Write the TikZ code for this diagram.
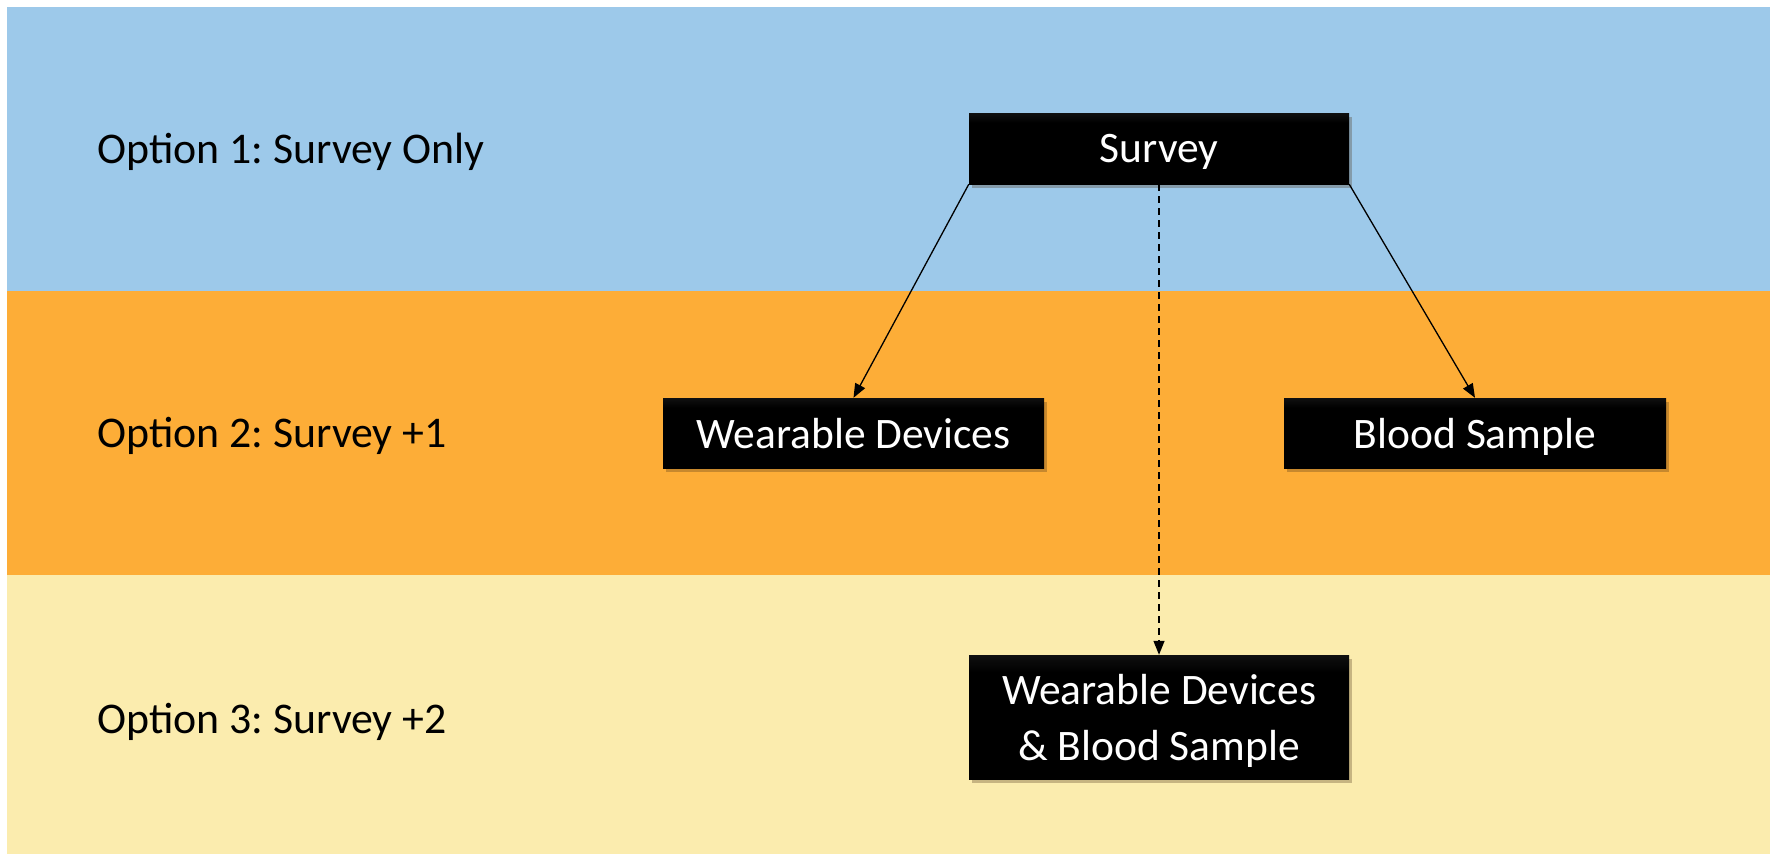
\documentclass[tikz,border=0pt]{standalone}
\usepackage{fontspec}
\setmainfont{Carlito}
\usetikzlibrary{arrows.meta,shadows}
\definecolor{bandblue}{RGB}{157,201,234}
\definecolor{bandorange}{RGB}{253,173,55}
\definecolor{bandyellow}{RGB}{251,236,174}
\definecolor{boxtop}{RGB}{72,72,72}
\pgfdeclareverticalshading{boxshade}{100bp}{color(0bp)=(black); color(68bp)=(black); color(100bp)=(boxtop)}
\frenchspacing
\tikzset{
  blackbox/.style={rectangle, shade, shading=boxshade, text=white, inner sep=0pt, align=center,
    font=\fontsize{43.5}{56}\selectfont, text depth=0pt,
    drop shadow={shadow xshift=3pt, shadow yshift=-4pt, opacity=0.3, fill=black!60!brown}},
  optlabel/.style={anchor=base west, inner sep=0pt, font=\fontsize{43.8}{51}\selectfont, text=black},
  conn/.style={line width=1.3pt, -{Triangle[length=14pt,width=11pt]}},
  dconn/.style={conn, dash pattern=on 7pt off 5pt}
}
\begin{document}
\begin{tikzpicture}[x=1pt,y=-1pt]
\useasboundingbox (0,0) rectangle (1773,854);
\fill[white] (0,0) rectangle (1773,854);
\fill[bandblue] (7,7) rectangle (1770,291);
\fill[bandorange] (7,291) rectangle (1770,575);
\fill[bandyellow] (7,575) rectangle (1770,854);

\node[optlabel] (o1) at (97,163) {Option 1: Survey Only};
\node[optlabel] (o2) at (97,447) {Option 2: Survey +1};
\node[optlabel] (o3) at (97,733) {Option 3: Survey +2};

\node[blackbox, minimum width=380pt, minimum height=71pt] (survey) at (1159,148.5) {Survey};
\node[blackbox, minimum width=381pt, minimum height=70pt] (wear) at (853.5,433) {Wearable Devices};
\node[blackbox, minimum width=382pt, minimum height=70pt] (blood) at (1475,433) {Blood Sample};
\node[blackbox, minimum width=380pt, minimum height=124pt] (both) at (1159,717) {Wearable Devices\\ \& Blood Sample};

\draw[conn] (survey.south west) -- (wear.north);
\draw[conn] (survey.south east) -- (blood.north);
\draw[dconn] (survey.south) -- (both.north);
\end{tikzpicture}
\end{document}
